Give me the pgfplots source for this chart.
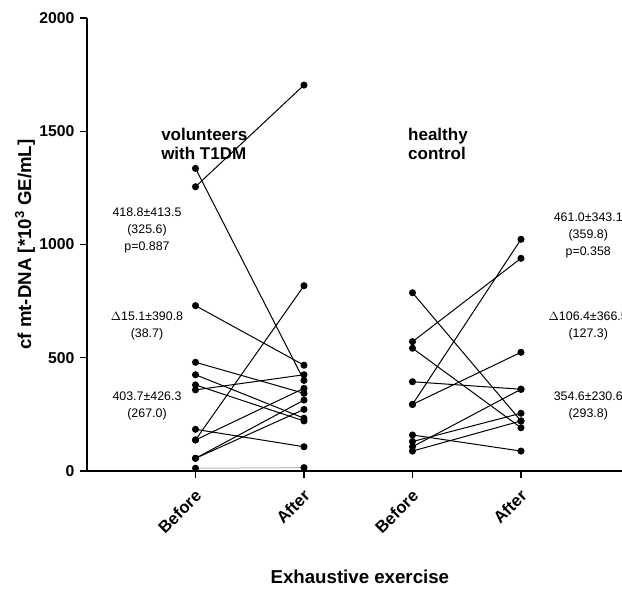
\documentclass[border=0pt]{standalone}
\usepackage{fontspec}
\setmainfont{Liberation Sans}
\usepackage{pgfplots}
\pgfplotsset{compat=1.18}
\begin{document}
\begin{tikzpicture}
\path[use as bounding box] (-65.25pt,-88.5pt) rectangle (401.25pt,353.25pt);
\begin{axis}[
  at={(0,0)}, anchor=south west,
  scale only axis,
  width=406.875pt, height=339.75pt,
  xmin=0, xmax=5, ymin=0, ymax=2000,
  axis x line*=bottom, axis y line*=left,
  axis line style={line width=1.3pt},
  tick style={line width=1.1pt, black},
  tick align=outside,
  major tick length=5pt,
  xtick={1,2,3,4},
  xticklabels={Before,After,Before,After},
  ytick={0,500,1000,1500,2000},
  /pgf/number format/assume math mode=true,
  scaled y ticks=false,
  yticklabel={\pgfmathprintnumber[fixed,precision=0,1000 sep={}]{\tick}},
  tick label style={font=\fontsize{11.8}{13}\selectfont\bfseries},
  xticklabel style={font=\fontsize{12.5}{14}\selectfont\bfseries, xshift=4.5pt, yshift=-9pt, rotate=45, anchor=east},
  yticklabel style={xshift=-1pt},
  ylabel={cf mt-DNA [*10\textsuperscript{3} GE/mL]},
  ylabel style={font=\fontsize{14}{16}\selectfont\bfseries, at={(axis description cs:-0.1143,0.5)}, anchor=center, rotate=0},
  xlabel={Exhaustive exercise},
  xlabel style={font=\fontsize{14}{16}\selectfont\bfseries, at={(axis description cs:0.503,-0.234)}, anchor=center},
  clip=false,
  pt/.style={black, solid, line width=0.75pt, mark=*, mark size=2.25pt, mark options={solid, fill=black, draw=black}},
]
% volunteers with T1DM
\addplot[pt] coordinates {(1,1336) (2,400)};
\addplot[pt] coordinates {(1,1255) (2,1704)};
\addplot[pt] coordinates {(1,730) (2,467)};
\addplot[pt] coordinates {(1,480) (2,343)};
\addplot[pt] coordinates {(1,425) (2,233)};
\addplot[pt] coordinates {(1,380) (2,221)};
\addplot[pt] coordinates {(1,358) (2,425)};
\addplot[pt] coordinates {(1,184) (2,107)};
\addplot[pt] coordinates {(1,137) (2,818)};
\addplot[pt] coordinates {(1,137) (2,365)};
\addplot[pt] coordinates {(1,56) (2,313)};
\addplot[pt] coordinates {(1,56) (2,272)};
\addplot[pt, gray!55] coordinates {(1,12) (2,15)};
% healthy control
\addplot[pt] coordinates {(3,787) (4,221)};
\addplot[pt] coordinates {(3,571) (4,939)};
\addplot[pt] coordinates {(3,542) (4,191)};
\addplot[pt] coordinates {(3,394) (4,361)};
\addplot[pt] coordinates {(3,294) (4,1023)};
\addplot[pt] coordinates {(3,294) (4,524)};
\addplot[pt] coordinates {(3,159) (4,88)};
\addplot[pt] coordinates {(3,130) (4,255)};
\addplot[pt] coordinates {(3,107) (4,361)};
\addplot[pt] coordinates {(3,88) (4,221)};
% titles
\node[font=\fontsize{12.75}{14.5}\selectfont\bfseries, align=left, anchor=west, inner sep=0pt] at (axis cs:0.682,1444) {volunteers\\with T1DM};
\node[font=\fontsize{12.75}{14.5}\selectfont\bfseries, align=left, anchor=west, inner sep=0pt] at (axis cs:2.958,1444) {healthy\\control};
% annotations
\begin{scope}[every node/.style={font=\fontsize{9.3}{12.75}\selectfont, align=center, anchor=center}]
\node at (axis cs:0.553,1064) {418.8±413.5\\(325.6)\\p=0.887};
\node at (axis cs:0.553,642) {$\Delta$15.1±390.8\\(38.7)};
\node at (axis cs:0.553,285) {403.7±426.3\\(267.0)};
\node at (axis cs:4.62,1042) {461.0±343.1\\(359.8)\\p=0.358};
\node at (axis cs:4.62,642) {$\Delta$106.4±366.5\\(127.3)};
\node at (axis cs:4.62,285) {354.6±230.6\\(293.8)};
\end{scope}
\end{axis}
\end{tikzpicture}
\end{document}
